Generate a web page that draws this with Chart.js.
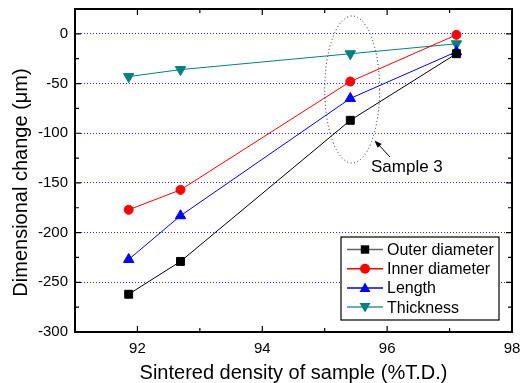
<!DOCTYPE html>
<html>
<head>
<meta charset="utf-8">
<script src="https://cdn.jsdelivr.net/npm/chart.js@4/dist/chart.umd.min.js"></script>
<style>
body { margin: 0; background: #fff; }
</style>
</head>
<body>
<canvas id="graph_1" width="520" height="383"></canvas>
<script>
// data
var density = [91.86, 92.69, 95.41, 97.11];
var outerDiameter = [-262, -229, -87, -20];
var innerDiameter = [-177, -157, -48, -1];
var lengthChange = [-227, -183, -65, -18];
var thickness = [-43, -36, -20, -10];
var seriesNames = ['Outer diameter', 'Inner diameter', 'Length', 'Thickness'];
var xTickLabels = [92, 94, 96, 98];
var yTickLabels = [-300, -250, -200, -150, -100, -50, 0];

var FONT = '"Liberation Sans", Arial, sans-serif';

function pts(ys) {
    return density.map(function (x, i) { return { x: x, y: ys[i] }; });
}

// marker drawing for the legend
function drawMarker(ctx, style, x, y, color) {
    ctx.save();
    ctx.fillStyle = color;
    ctx.beginPath();
    if (style === 'rect') {
        ctx.rect(x - 4.2, y - 4.2, 8.4, 8.4);
    } else if (style === 'circle') {
        ctx.arc(x, y, 5, 0, Math.PI * 2);
    } else if (style === 'up') {
        ctx.moveTo(x, y - 5.5); ctx.lineTo(x + 5.5, y + 4); ctx.lineTo(x - 5.5, y + 4);
    } else {
        ctx.moveTo(x, y + 5.5); ctx.lineTo(x + 5.5, y - 4); ctx.lineTo(x - 5.5, y - 4);
    }
    ctx.closePath();
    ctx.fill();
    ctx.restore();
}

var extras = {
    id: 'extras',
    afterDraw: function (chart) {
        var ctx = chart.ctx;
        var a = chart.chartArea;
        var xs = chart.scales.x, ys = chart.scales.y;
        ctx.save();

        // 枠
        ctx.strokeStyle = '#000';
        ctx.lineWidth = 2;
        ctx.strokeRect(a.left, a.top, a.right - a.left, a.bottom - a.top);

        // 内向きの目盛り
        ctx.lineWidth = 1.2;
        ctx.beginPath();
        for (var v = 92; v <= 98; v++) {
            var px = xs.getPixelForValue(v);
            if (px > a.right - 1) continue;
            var len = (v % 2 === 0) ? 6 : 4;
            ctx.moveTo(px, a.bottom); ctx.lineTo(px, a.bottom - len);
            ctx.moveTo(px, a.top); ctx.lineTo(px, a.top + len);
        }
        for (var w = -275; w <= 25; w += 25) {
            var py = ys.getPixelForValue(w);
            var l2 = (w % 50 === 0) ? 6 : 4;
            ctx.moveTo(a.left, py); ctx.lineTo(a.left + l2, py);
            ctx.moveTo(a.right, py); ctx.lineTo(a.right - l2, py);
        }
        ctx.stroke();

        // Sample 3 の楕円
        var cx = xs.getPixelForValue(density[2] + 0.03);
        var cy = ys.getPixelForValue(-56);
        var rx = xs.getPixelForValue(density[2] + 0.47) - cx;
        var ry = ys.getPixelForValue(-130) - cy;
        ctx.strokeStyle = '#222';
        ctx.lineWidth = 1;
        ctx.setLineDash([1, 2.5]);
        ctx.beginPath();
        ctx.ellipse(cx, cy, rx, ry, 0, 0, Math.PI * 2);
        ctx.stroke();
        ctx.setLineDash([]);

        // 矢印
        var tipX = 374.5, tipY = 140.5, tailX = 390, tailY = 157;
        ctx.strokeStyle = '#000';
        ctx.beginPath();
        ctx.moveTo(tailX, tailY); ctx.lineTo(tipX + 3, tipY + 3);
        ctx.stroke();
        var ang = Math.atan2(tipY - tailY, tipX - tailX);
        ctx.fillStyle = '#000';
        ctx.beginPath();
        ctx.moveTo(tipX, tipY);
        ctx.lineTo(tipX - 8 * Math.cos(ang - 0.35), tipY - 8 * Math.sin(ang - 0.35));
        ctx.lineTo(tipX - 8 * Math.cos(ang + 0.35), tipY - 8 * Math.sin(ang + 0.35));
        ctx.closePath();
        ctx.fill();

        ctx.font = '17px ' + FONT;
        ctx.textAlign = 'left';
        ctx.textBaseline = 'alphabetic';
        ctx.fillText('Sample 3', 371, 172);

        // 凡例
        var lx = 341, ly = 237, lw = 158, lh = 83;
        ctx.fillStyle = '#fff';
        ctx.fillRect(lx, ly, lw, lh);
        ctx.strokeStyle = '#000';
        ctx.lineWidth = 1.2;
        ctx.strokeRect(lx, ly, lw, lh);
        ctx.font = '16px ' + FONT;
        ctx.textBaseline = 'middle';
        var lineCols = ['#666', '#ff0000', '#0000ff', '#339999'];
        var marks = ['rect', 'circle', 'up', 'down'];
        chart.data.datasets.forEach(function (ds, i) {
            var y = 249.5 + i * 19.2;
            ctx.strokeStyle = lineCols[i];
            ctx.lineWidth = 1.5;
            ctx.beginPath();
            ctx.moveTo(347, y); ctx.lineTo(383, y);
            ctx.stroke();
            drawMarker(ctx, marks[i], 365, y, ds.borderColor);
            ctx.fillStyle = '#000';
            ctx.fillText(ds.label, 387, y + 1);
        });

        // 軸タイトル
        ctx.fillStyle = '#000';
        ctx.font = '20px ' + FONT;
        ctx.textAlign = 'center';
        ctx.textBaseline = 'alphabetic';
        ctx.fillText('Sintered density of sample (%T.D.)', (a.left + a.right) / 2, 378.5);
        ctx.translate(27, 182.5);
        ctx.rotate(-Math.PI / 2);
        ctx.fillText('Dimensional change (\u03bcm)', 0, 0);

        ctx.restore();
    }
};

var ctx = document.getElementById('graph_1');

var chart = new Chart(ctx, {
    type: 'scatter',
    data: {
        datasets: [{
            label: seriesNames[0],
            data: pts(outerDiameter),
            borderColor: '#000000',
            backgroundColor: '#000000',
            pointStyle: 'rect',
            pointRadius: 5.6
        }, {
            label: seriesNames[1],
            data: pts(innerDiameter),
            borderColor: '#ff0000',
            backgroundColor: '#ff0000',
            pointStyle: 'circle',
            pointRadius: 4.5
        }, {
            label: seriesNames[2],
            data: pts(lengthChange),
            borderColor: '#0000ff',
            backgroundColor: '#0000ff',
            pointStyle: 'triangle',
            pointRadius: 6
        }, {
            label: seriesNames[3],
            data: pts(thickness),
            borderColor: '#008080',
            backgroundColor: '#008080',
            pointStyle: 'triangle',
            pointRotation: 180,
            pointRadius: 6
        }]
    },
    options: {
        responsive: false,
        animation: false,
        showLine: true,
        datasets: {
            scatter: { borderWidth: 1, pointBorderWidth: 1 }
        },
        layout: { padding: { top: 9, right: 8, left: 0, bottom: 0 } },
        plugins: {
            legend: { display: false },
            tooltip: { enabled: false }
        },
        scales: {
            x: {
                type: 'linear',
                min: 91,
                max: 98,
                afterFit: function (s) {
                    s.height = 51;
                    s.paddingLeft = 0; s.paddingRight = 0;
                },
                afterBuildTicks: function (s) {
                    s.ticks = xTickLabels.map(function (v) { return { value: v }; });
                },
                grid: { display: false, drawTicks: false },
                border: { display: false },
                ticks: {
                    padding: 8,
                    maxRotation: 0,
                    color: '#000',
                    font: { family: FONT, size: 15 },
                    callback: function (v) { return String(v); }
                }
            },
            y: {
                min: -300,
                max: 25,
                afterFit: function (s) {
                    s.width = 75;
                    s.paddingTop = 0; s.paddingBottom = 0;
                },
                afterBuildTicks: function (s) {
                    s.ticks = yTickLabels.map(function (v) { return { value: v }; });
                },
                grid: {
                    drawTicks: false,
                    color: function (c) {
                        return (c.tick && c.tick.value > -300) ? '#2a2aff' : 'rgba(0,0,0,0)';
                    },
                    lineWidth: 1
                },
                border: { display: false, dash: [1, 2] },
                ticks: {
                    padding: 7,
                    color: '#000',
                    font: { family: FONT, size: 15 },
                    callback: function (v) { return String(v); }
                }
            }
        }
    },
    plugins: [extras]
});
</script>
</body>
</html>
